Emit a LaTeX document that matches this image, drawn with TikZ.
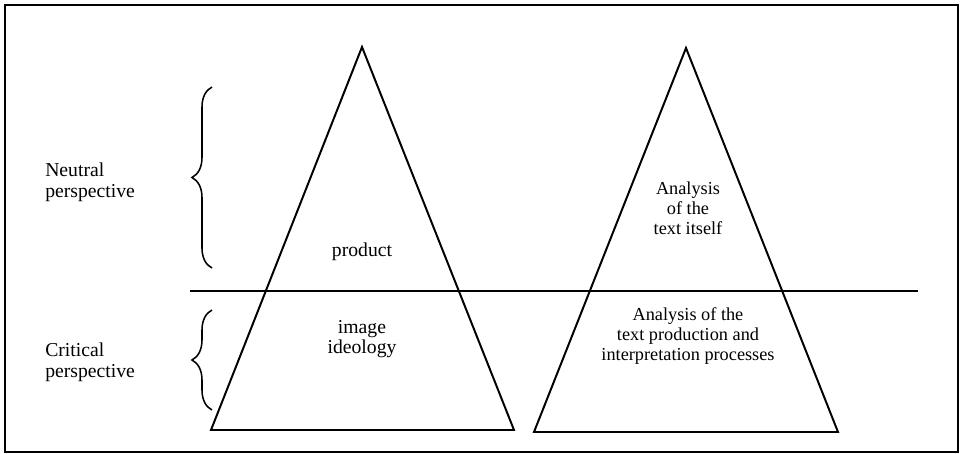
\documentclass[tikz,border=0pt]{standalone}
\usepackage{fontspec}
\setmainfont{Liberation Serif}
\usetikzlibrary{decorations.pathreplacing}
\tikzset{
	pyramid/.style={line width=1.4pt, line join=miter},
	bracket/.style={line width=1.1pt, decorate, decoration={brace, amplitude=0.5cm}},
	sidetext/.style={align=left, anchor=west, inner sep=0pt, font=\fontsize{14}{14.6}\selectfont},
	lefttext/.style={align=center, inner sep=0pt, font=\fontsize{14}{14.6}\selectfont},
	righttext/.style={align=center, inner sep=0pt, font=\fontsize{13}{14.2}\selectfont}
}

\begin{document}
\begin{tikzpicture}[x=0.025cm, y=-0.025cm]
			%%%%% START %%%%%
			\useasboundingbox (0,0) rectangle (963,454);
			\draw[line width=1.9pt] (5,5) rectangle (958,452);
			
			% the two pyramids
			\draw[pyramid] (362,47) -- (514,430) -- (211,430) -- cycle;
			\draw[pyramid] (686,48) -- (838,432) -- (534,432) -- cycle;
			
			% divider between the perspectives
			\draw[line width=1pt] (190,291) -- (918,291);
			
			% braces
			\draw[bracket] (212,268) -- (212,87);
			\draw[bracket] (212,410) -- (212,310);
			
			\node[sidetext] (neutral) at (45,182) {Neutral\\perspective};
			\node[sidetext] (critical) at (45,362) {Critical\\perspective};
			
			\node[lefttext] (product) at (362,252) {product};
			\node[lefttext] (ideology) at (362,339) {image\\ideology};
			
			\node[righttext] (itself) at (688,208) {Analysis\\of the\\text itself};
			\node[righttext] (processes) at (688,336) {Analysis of the\\text production and\\interpretation processes};
			
			%%%%% END %%%%%
\end{tikzpicture}
\end{document}
